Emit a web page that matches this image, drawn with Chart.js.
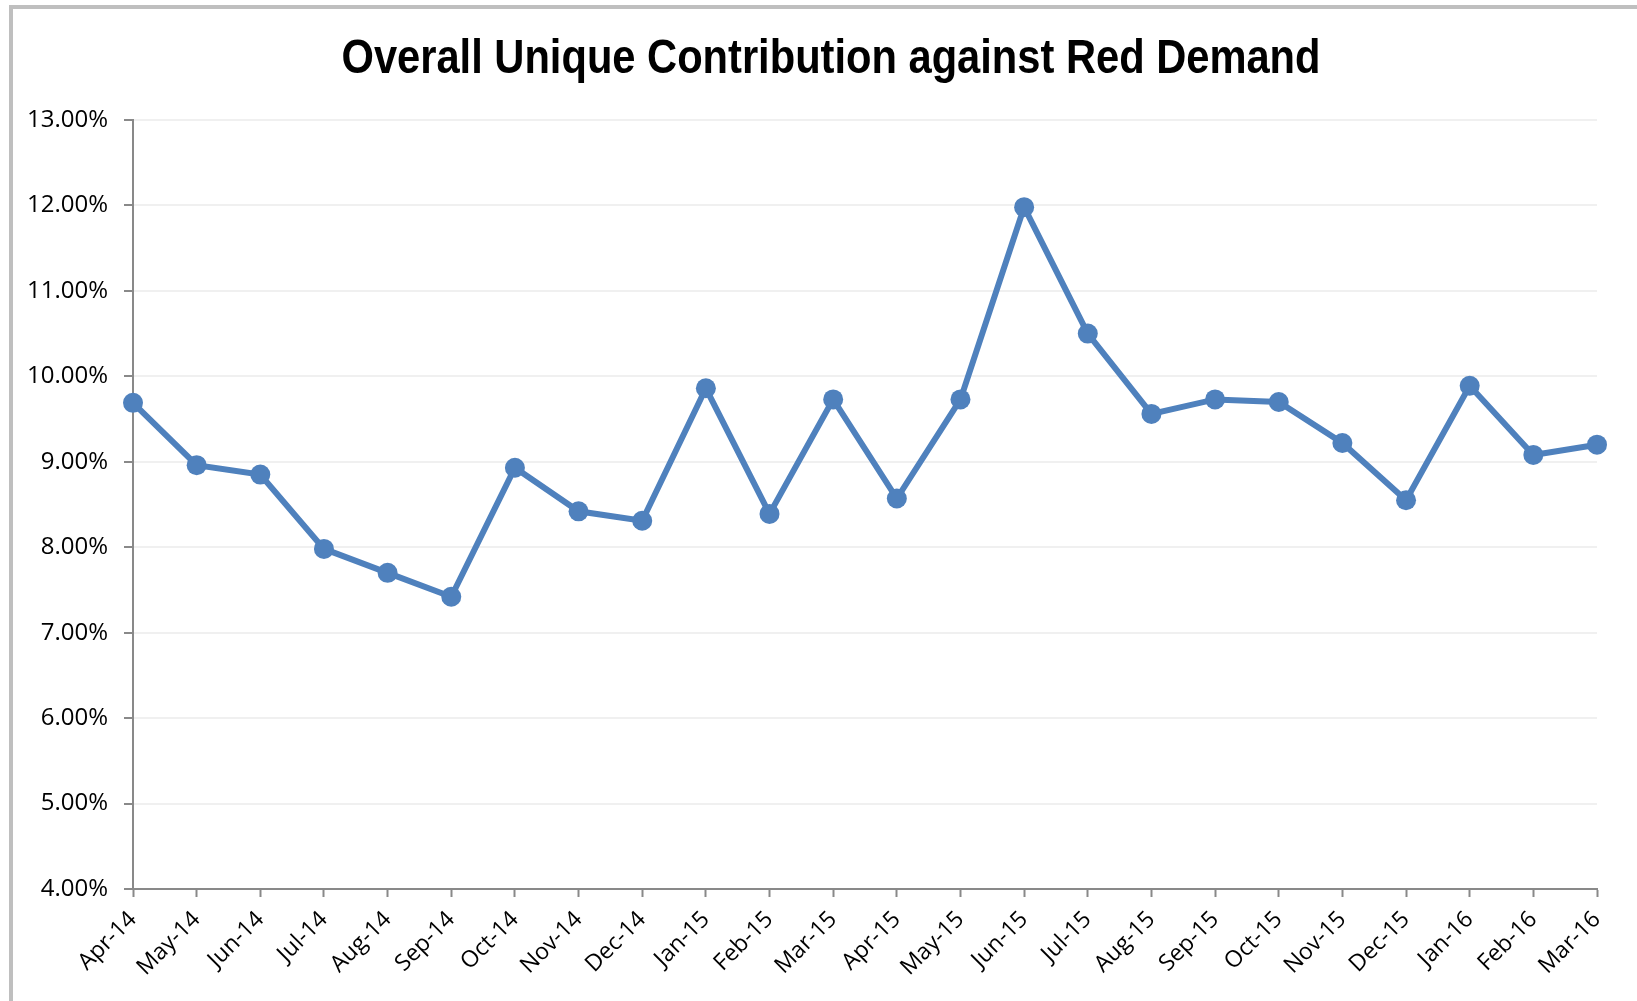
<!DOCTYPE html>
<html>
<head>
<meta charset="utf-8">
<script src="https://cdn.jsdelivr.net/npm/chart.js@4"></script>
<style>
  html, body { margin: 0; padding: 0; background: #fff; }
  #wrap { position: relative; width: 1637px; height: 1001px; }
  canvas { display: block; }
</style>
</head>
<body>
<div id="wrap"><canvas id="c" width="1637" height="1001"></canvas></div>
<script>
const chartTitle = "Overall Unique Contribution against Red Demand";
const categories = ["Apr-14","May-14","Jun-14","Jul-14","Aug-14","Sep-14","Oct-14","Nov-14","Dec-14",
  "Jan-15","Feb-15","Mar-15","Apr-15","May-15","Jun-15","Jul-15","Aug-15","Sep-15","Oct-15","Nov-15","Dec-15",
  "Jan-16","Feb-16","Mar-16"];
const contribution = [9.69, 8.96, 8.85, 7.98, 7.70, 7.42, 8.93, 8.42, 8.31,
  9.86, 8.39, 9.73, 8.57, 9.73, 11.98, 10.50, 9.56, 9.73, 9.70, 9.22, 8.55,
  9.89, 9.08, 9.20];
const yMin = 4, yMax = 13, yStep = 1;

const frameAndTitle = {
  id: 'frameAndTitle',
  beforeDraw(chart) {
    const ctx = chart.ctx;
    ctx.save();
    ctx.fillStyle = '#ffffff';
    ctx.fillRect(0, 0, chart.width, chart.height);
    ctx.fillStyle = '#bfbfbf';
    ctx.fillRect(9, 5, 4, chart.height - 5);
    ctx.fillRect(9, 5, chart.width - 9, 4);
    ctx.restore();
  },
  afterDraw(chart) {
    const ctx = chart.ctx;
    ctx.save();
    ctx.fillStyle = '#000000';
    ctx.font = 'bold 49px "Liberation Sans Narrow", "Arial Narrow", "Liberation Sans", sans-serif';
    ctx.textAlign = 'center';
    ctx.textBaseline = 'alphabetic';
    const w = ctx.measureText(chartTitle).width;
    const sx = Math.min(1, 979 / w);
    ctx.translate(831, 73);
    ctx.scale(sx, 1);
    ctx.fillText(chartTitle, 0, 0);
    ctx.restore();
  }
};

new Chart(document.getElementById('c'), {
  type: 'line',
  data: {
    labels: categories,
    datasets: [{
      data: contribution,
      borderColor: '#4f81bd',
      backgroundColor: '#4f81bd',
      borderWidth: 6,
      pointRadius: 10,
      pointBorderWidth: 0,
      pointBackgroundColor: '#4f81bd',
      tension: 0,
      fill: false
    }]
  },
  options: {
    responsive: false,
    animation: false,
    devicePixelRatio: 1,
    layout: { padding: { top: 120, right: 40, left: 0, bottom: 0 } },
    plugins: { legend: { display: false }, title: { display: false }, tooltip: { enabled: false } },
    scales: {
      x: {
        type: 'category',
        offset: false,
        afterFit(scale) { scale.height = 112; },
        grid: { drawOnChartArea: false, drawTicks: true, tickLength: 8, tickColor: '#898989', tickWidth: 2 },
        border: { display: true, color: '#898989', width: 2 },
        ticks: {
          autoSkip: false, maxRotation: 45, minRotation: 45, padding: 9,
          color: '#000', font: { family: '"Open Sans", sans-serif', size: 23 }
        }
      },
      y: {
        min: yMin, max: yMax,
        afterFit(scale) { scale.width = 133; },
        grid: { color: '#f0f0f0', lineWidth: 2, drawTicks: true, tickLength: 9, tickColor: '#898989', tickWidth: 2 },
        border: { display: true, color: '#898989', width: 2 },
        ticks: {
          stepSize: yStep, padding: 16, color: '#000',
          font: { family: '"Open Sans", sans-serif', size: 24 },
          callback: v => v.toFixed(2) + '%'
        }
      }
    }
  },
  plugins: [frameAndTitle]
});
</script>
</body>
</html>
